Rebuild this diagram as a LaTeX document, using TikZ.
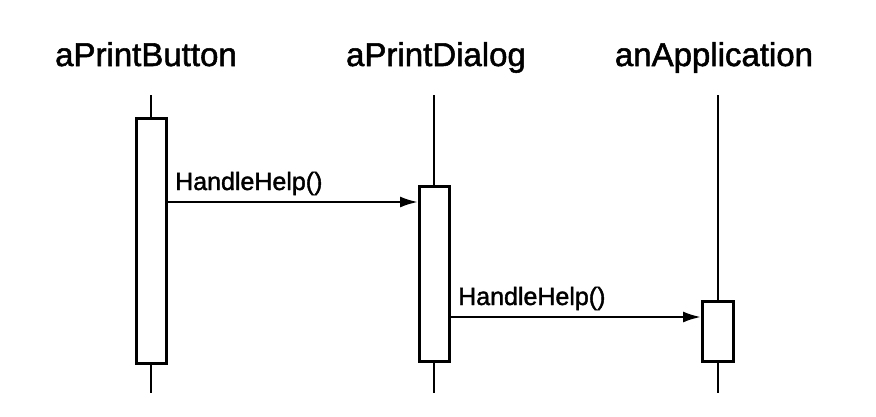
\documentclass[tikz,border=0pt]{standalone}
\usepackage{fontspec}
\setmainfont{Liberation Sans}
\newfontfamily\heavy{Liberation Sans}[FakeBold=1.6]
\usetikzlibrary{arrows.meta}
\tikzset{
  hdr/.style={font=\heavy\fontsize{33}{36}\selectfont, inner sep=0pt, anchor=base},
  lbl/.style={font=\heavy\fontsize{25}{28}\selectfont, inner sep=0pt, anchor=base west},
  life/.style={line width=2.3pt},
  act/.style={draw, line width=2.8pt, fill=white, minimum width=30pt, inner sep=0pt, anchor=north},
  msg/.style={line width=2.5pt, -{Latex[length=18pt,width=11pt]}}
}
\begin{document}
\begin{tikzpicture}[x=1pt,y=-1pt]
\useasboundingbox (0,0) rectangle (876,416);
% headers
\node[hdr] (hb) at (146,66) {aPrintButton};
\node[hdr] (hd) at (436,66) {aPrintDialog};
\node[hdr] (ha) at (714,66) {anApplication};
% lifeline ends
\coordinate (t1) at (151,95);  \coordinate (e1) at (151,393);
\coordinate (t2) at (434,95);  \coordinate (e2) at (434,393);
\coordinate (t3) at (718,95);  \coordinate (e3) at (718,393);
\draw[life] (t1) -- (e1);
\draw[life] (t2) -- (e2);
\draw[life] (t3) -- (e3);
% activation boxes
\node[act, minimum height=245pt] (b1) at (151.5,117) {};
\node[act, minimum height=175pt] (b2) at (434.5,185) {};
\node[act, minimum height=60pt, minimum width=31pt] (b3) at (718,300) {};
% messages
\coordinate (m1) at (0,202);
\coordinate (m2) at (0,317);
\draw[msg] (b1.east |- m1) -- (b2.west |- m1);
\draw[msg] (b2.east |- m2) -- (b3.west |- m2);
\node[lbl] (l1) at (175,190) {HandleHelp()};
\node[lbl] (l2) at (458,305) {HandleHelp()};
\end{tikzpicture}
\end{document}
